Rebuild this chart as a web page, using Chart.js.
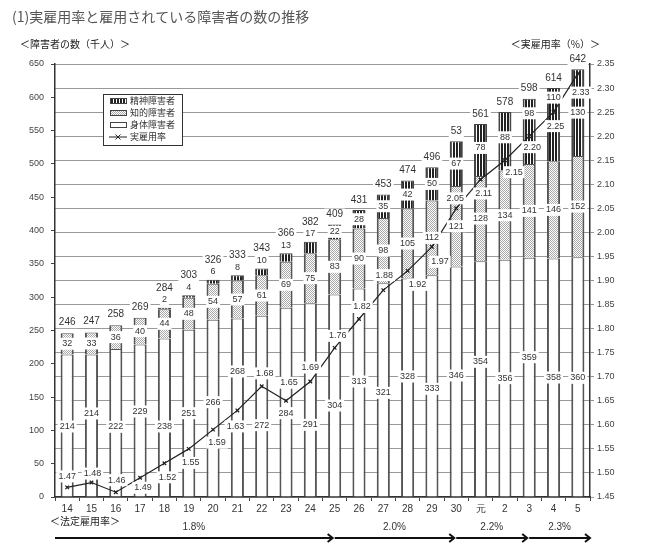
<!DOCTYPE html>
<html lang="ja">
<head>
<meta charset="utf-8">
<title>実雇用率と雇用されている障害者の数の推移</title>
<script src="https://cdn.jsdelivr.net/npm/chart.js@4.4.1/dist/chart.umd.min.js"></script>
<style>
    html, body { margin: 0; padding: 0; background: #fff; }
    #wrap { width: 650px; height: 556px; position: relative; }
</style>
</head>
<body>
<div id="wrap"><canvas id="chart" width="650" height="556"></canvas></div>
<script>
// Fiscal years (平成14 .. 令和5)
const years = ['14', '15', '16', '17', '18', '19', '20', '21', '22', '23', '24',
               '25', '26', '27', '28', '29', '30', '元', '2', '3', '4', '5'];

// Employed persons with disabilities (thousands)
const physical     = [214, 214, 222, 229, 238, 251, 266, 268, 272, 284, 291,
                      304, 313, 321, 328, 333, 346, 354, 356, 359, 358, 360];
const intellectual = [32, 33, 36, 40, 44, 48, 54, 57, 61, 69, 75,
                      83, 90, 98, 105, 112, 121, 128, 134, 141, 146, 152];
const mental       = [0, 0, 0, 0, 2, 4, 6, 8, 10, 13, 17,
                      22, 28, 35, 42, 50, 67, 78, 88, 98, 110, 130];
// Totals as printed above each bar
const totalLabels  = ['246', '247', '258', '269', '284', '303', '326', '333', '343', '366', '382',
                      '409', '431', '453', '474', '496', '53', '561', '578', '598', '614', '642'];

// Actual employment rate (%)
const employmentRate = [1.47, 1.48, 1.46, 1.49, 1.52, 1.55, 1.59, 1.63, 1.68, 1.65, 1.69,
                        1.76, 1.82, 1.88, 1.92, 1.97, 2.05, 2.11, 2.15, 2.20, 2.25, 2.33];

// Statutory employment rate periods
const legalRates    = ['1.8%', '2.0%', '2.2%', '2.3%'];
const legalRateFrom = ['14', '25', '30', '3'];

// Label placement only (pixel nudges so numbers stay clear of the rate line)
const physicalNudge = [1, -12, 4, -9, 9, 0, -6, -36, 19, 11, 25,
                       10, -11, 3, -11, 3, -6, -17, 0, -20, 0, 1];
const mentalNudge   = [0, 0, 0, 0, 0, 0, 0, 0, 0, 0, 0,
                       0, 0, 0, 0, 0, 0, -2, -4, -18, -27, 0];
const rateLabelDy   = [-11, -9, -12, 10, 14, 14, 13, 16, -13, -18, -14,
                       -12, -12, -15, 14, 15, -10, 14, 12, 11, 14, 19];
const rateLabelDx   = [0, 1, 1, 3, 3, 2, 4, -2, 3, 3, 0,
                       3, 3, 1, 10, 8, -1, 3, 9, 3, 2, 3];

const NUM_FONT = "'Liberation Sans', Arial, sans-serif";
const JP_FONT = "'Noto Sans CJK JP', 'Noto Sans', sans-serif";
const SEG_FONT = '9px ' + NUM_FONT;
const TOTAL_FONT = '10px ' + NUM_FONT;

const canvas = document.getElementById('chart');
const ctx = canvas.getContext('2d');

// Vertical black stripes for 精神障害者
function stripePattern() {
    const c = document.createElement('canvas');
    c.width = 3; c.height = 3;
    const g = c.getContext('2d');
    g.fillStyle = '#fff';
    g.fillRect(0, 0, 3, 3);
    g.fillStyle = '#222';
    g.fillRect(0, 0, 2, 3);
    return ctx.createPattern(c, 'repeat');
}

// Light grey stipple for 知的障害者
function dotPattern() {
    const c = document.createElement('canvas');
    c.width = 2; c.height = 2;
    const g = c.getContext('2d');
    g.fillStyle = '#fff';
    g.fillRect(0, 0, 2, 2);
    g.fillStyle = '#a8a8a8';
    g.fillRect(0, 0, 1, 1);
    g.fillRect(1, 1, 1, 1);
    return ctx.createPattern(c, 'repeat');
}

const stripes = stripePattern();
const dots = dotPattern();

function boxText(c, text, x, y, font) {
    const s = String(text);
    c.font = font;
    const w = c.measureText(s).width;
    c.fillStyle = '#fff';
    c.fillRect(x - w / 2 - 2, y - 6, w + 4, 12);
    c.fillStyle = '#333';
    c.fillText(s, x, y);
}

// Value labels on the bar segments, totals and rate points
const valueLabels = {
    id: 'valueLabels',
    afterDatasetsDraw(chart) {
        const c = chart.ctx;
        const body = chart.getDatasetMeta(0).data;
        const intel = chart.getDatasetMeta(1).data;
        const ment = chart.getDatasetMeta(2).data;
        const rate = chart.getDatasetMeta(3).data;
        c.save();
        c.textAlign = 'center';
        c.textBaseline = 'middle';
        years.forEach((_, i) => {
            const b = body[i], n = intel[i], m = ment[i];
            boxText(c, physical[i], b.x, (b.y + b.base) / 2 + physicalNudge[i], SEG_FONT);
            boxText(c, intellectual[i], n.x, (n.y + n.base) / 2, SEG_FONT);
            let top = n.y;
            let gap = 11;
            if (mental[i] > 0) {
                top = m.y;
                if (m.base - m.y >= 13) {
                    boxText(c, mental[i], m.x, (m.y + m.base) / 2 + mentalNudge[i], SEG_FONT);
                    gap = 10;
                } else {
                    boxText(c, mental[i], m.x, top - 8, SEG_FONT);
                    gap = 20;
                }
            }
            boxText(c, totalLabels[i], b.x, top - gap, TOTAL_FONT);
        });
        rate.forEach((p, i) => {
            boxText(c, employmentRate[i].toFixed(2), p.x + rateLabelDx[i], p.y + rateLabelDy[i], SEG_FONT);
        });
        c.restore();
    }
};

// Titles, legend box and statutory-rate arrows
const decorations = {
    id: 'decorations',
    afterDraw(chart) {
        const c = chart.ctx;
        const area = chart.chartArea;
        const x = chart.scales.x;
        c.save();
        c.textBaseline = 'middle';

        c.fillStyle = '#555';
        c.font = '14px ' + JP_FONT;
        c.textAlign = 'left';
        c.fillText('(1)実雇用率と雇用されている障害者の数の推移', 12, 17);

        c.fillStyle = '#222';
        c.font = '10px ' + JP_FONT;
        c.fillText('＜障害者の数（千人）＞', 20, 44);
        c.textAlign = 'right';
        c.fillText('＜実雇用率（%）＞', 600, 44);
        c.textAlign = 'left';
        c.fillText('＜法定雇用率＞', 50, 521);

        // legend
        const lx = 103, ly = 94;
        c.fillStyle = '#fff';
        c.fillRect(lx, ly, 79, 51);
        c.strokeStyle = '#333';
        c.lineWidth = 1;
        c.strokeRect(lx + 0.5, ly + 0.5, 79, 51);
        const items = [
            { text: chart.data.datasets[2].label, fill: stripes },
            { text: chart.data.datasets[1].label, fill: dots },
            { text: chart.data.datasets[0].label, fill: '#fff' }
        ];
        c.font = '9px ' + JP_FONT;
        items.forEach((it, k) => {
            const yy = ly + 7 + k * 12;
            c.fillStyle = it.fill;
            c.fillRect(110, yy - 2.5, 16, 5);
            c.strokeStyle = '#444';
            c.strokeRect(110.5, yy - 2.5, 16, 5);
            c.fillStyle = '#333';
            c.fillText(it.text, 130, yy);
        });
        const ry = ly + 7 + 3 * 12;
        c.strokeStyle = '#222';
        c.beginPath();
        c.moveTo(109, ry); c.lineTo(127, ry);
        c.moveTo(115.5, ry - 2.5); c.lineTo(120.5, ry + 2.5);
        c.moveTo(120.5, ry - 2.5); c.lineTo(115.5, ry + 2.5);
        c.stroke();
        c.fillStyle = '#333';
        c.fillText(chart.data.datasets[3].label, 130, ry);

        // statutory rate arrows
        const starts = legalRateFrom.map((y, k) => k === 0 ? area.left : x.getPixelForValue(years.indexOf(y)));
        const ay = 538;
        c.strokeStyle = '#111';
        c.lineWidth = 2;
        c.font = '10px ' + NUM_FONT;
        c.textAlign = 'center';
        legalRates.forEach((r, k) => {
            const x0 = starts[k];
            const x1 = k < starts.length - 1 ? starts[k + 1] - 2 : area.right;
            c.beginPath();
            c.moveTo(x0, ay);
            c.lineTo(x1, ay);
            c.moveTo(x1 - 5, ay - 4);
            c.lineTo(x1, ay);
            c.lineTo(x1 - 5, ay + 4);
            c.stroke();
            c.fillStyle = '#333';
            c.fillText(r, (x0 + x1) / 2, 527);
        });
        c.restore();
    }
};

const barBorder = { left: 2, right: 2, top: 1, bottom: 0 };

new Chart(ctx, {
    type: 'bar',
    data: {
        labels: years,
        datasets: [
            {
                label: '身体障害者',
                data: physical,
                backgroundColor: '#fff',
                borderColor: '#555',
                borderWidth: barBorder,
                borderSkipped: false,
                stack: 'people',
                yAxisID: 'y',
                order: 1
            },
            {
                label: '知的障害者',
                data: intellectual,
                backgroundColor: dots,
                borderColor: '#555',
                borderWidth: barBorder,
                borderSkipped: false,
                stack: 'people',
                yAxisID: 'y',
                order: 1
            },
            {
                label: '精神障害者',
                data: mental,
                backgroundColor: stripes,
                borderColor: '#444',
                borderWidth: barBorder,
                borderSkipped: false,
                stack: 'people',
                yAxisID: 'y',
                order: 1
            },
            {
                type: 'line',
                label: '実雇用率',
                data: employmentRate,
                yAxisID: 'y1',
                borderColor: '#222',
                borderWidth: 1.2,
                tension: 0,
                pointStyle: 'crossRot',
                pointRadius: 2.5,
                pointBorderColor: '#222',
                pointBorderWidth: 1.3,
                order: 0
            }
        ]
    },
    options: {
        responsive: false,
        animation: false,
        devicePixelRatio: 1,
        layout: { padding: { top: 64, left: 0, right: 0, bottom: 0 } },
        datasets: {
            bar: { barPercentage: 0.54, categoryPercentage: 1 }
        },
        plugins: {
            legend: { display: false },
            title: { display: false },
            tooltip: { enabled: false }
        },
        scales: {
            x: {
                stacked: true,
                afterFit: s => { s.height = 59; },
                grid: { drawOnChartArea: false, tickLength: 4, color: '#444' },
                border: { color: '#333', width: 1.5 },
                ticks: { color: '#333', font: { size: 10, family: NUM_FONT }, padding: 2, maxRotation: 0 }
            },
            y: {
                stacked: true,
                position: 'left',
                min: 0,
                max: 650,
                afterFit: s => { s.width = 55; },
                grid: { drawOnChartArea: false, tickLength: 4, color: '#444' },
                border: { color: '#333', width: 1.5 },
                ticks: { stepSize: 50, color: '#444', font: { size: 9, family: NUM_FONT }, padding: 7 }
            },
            y1: {
                position: 'right',
                min: 1.45,
                max: 2.35,
                afterFit: s => { s.width = 60; },
                grid: { drawOnChartArea: true, tickLength: 4, color: '#999', lineWidth: 1 },
                border: { color: '#333', width: 1.5 },
                ticks: {
                    stepSize: 0.05,
                    color: '#444',
                    font: { size: 9, family: NUM_FONT },
                    padding: 3,
                    callback: v => Number(v).toFixed(2)
                }
            }
        }
    },
    plugins: [valueLabels, decorations]
});
</script>
</body>
</html>
